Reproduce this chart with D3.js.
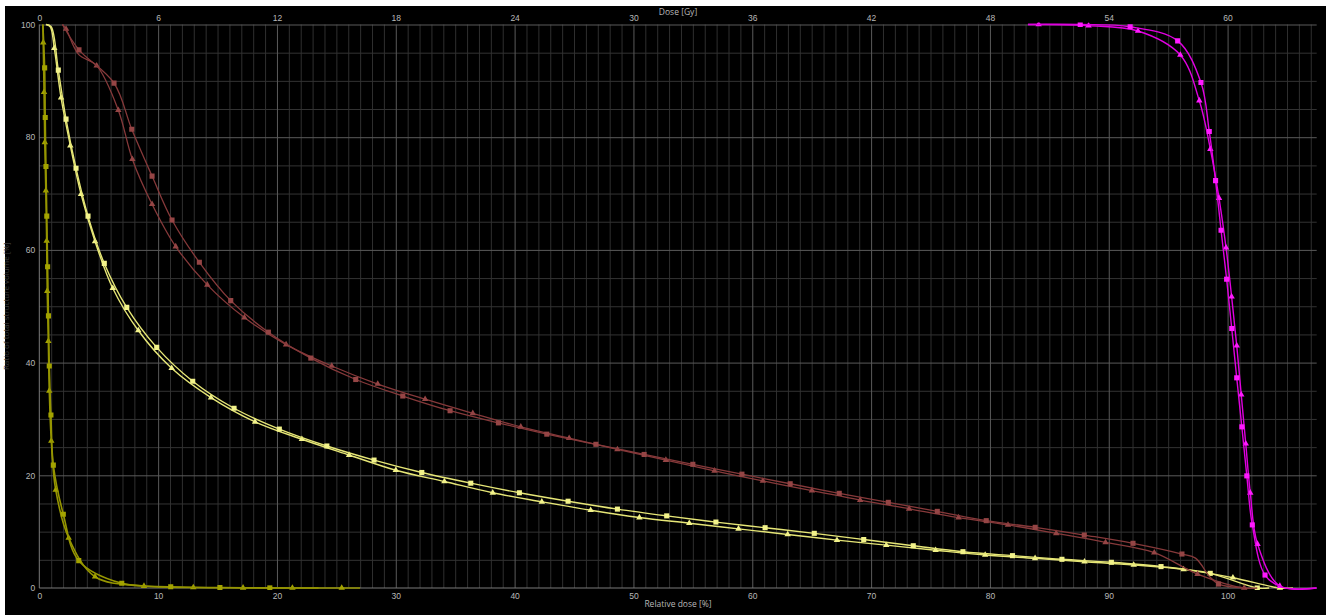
<!DOCTYPE html>
<html>
<head>
<meta charset="utf-8">
<script src="https://cdn.jsdelivr.net/npm/d3@7"></script>
<style>
  html, body { margin: 0; padding: 0; background: #ffffff; }
  svg { display: block; font-family: "Open Sans", "Noto Sans", sans-serif; }
</style>
</head>
<body>
<svg id="chart" width="1334" height="615"></svg>
<script>
// ---- axis settings ----
const PRESCRIPTION_GY = 60;          // 100 % relative dose
const REL_DOSE_MAX = 107.5;          // right end of the dose axis [%]
const relDoseTicks = d3.range(0, 101, 10);
const gyTicks = d3.range(0, 61, 6);
const volumeTicks = d3.range(0, 101, 20);

// ---- cumulative DVH curves: [relative dose %, volume %, marker] ----
const oliveSq = [
  [0.3, 100, 0], [0.45, 92.3, 1], [0.5, 83.5, 1], [0.56, 74.8, 1], [0.63, 66.0, 1],
  [0.7, 57.0, 1], [0.77, 48.3, 1], [0.84, 39.4, 1], [0.98, 30.7, 1], [1.18, 21.8, 1],
  [2.02, 13.1, 1], [3.32, 4.85, 1], [6.94, 0.83, 1], [11.06, 0.23, 1], [15.2, 0.08, 1],
  [19.4, 0.02, 1], [23.5, 0, 0]
];
const oliveTri = [
  [0.3, 100, 0], [0.33, 96.8, 1], [0.4, 88.0, 1], [0.46, 79.1, 1], [0.55, 70.5, 1],
  [0.62, 61.6, 1], [0.67, 52.7, 1], [0.76, 43.8, 1], [0.84, 35.0, 1], [1.01, 26.1, 1],
  [1.38, 17.4, 1], [2.47, 8.9, 1], [4.69, 2.0, 1], [8.81, 0.35, 1], [12.96, 0.1, 1],
  [17.15, 0.03, 1], [21.3, 0, 1], [25.45, 0, 1], [27, 0, 0]
];
const yellowSq = [
  [0.6, 100, 0], [1.0, 99.6, 0], [1.6, 91.9, 1], [2.25, 83.2, 1], [3.09, 74.5, 1],
  [4.1, 66.0, 1], [5.47, 57.6, 1], [7.36, 49.8, 1], [9.88, 42.7, 1], [12.91, 36.7, 1],
  [16.39, 31.9, 1], [20.2, 28.2, 1], [24.2, 25.2, 1], [28.17, 22.7, 1], [32.19, 20.5, 1],
  [36.31, 18.6, 1], [40.4, 16.9, 1], [44.5, 15.4, 1], [48.65, 14.0, 1], [52.8, 12.8, 1],
  [56.94, 11.7, 1], [61.08, 10.7, 1], [65.22, 9.7, 1], [69.38, 8.6, 1], [73.55, 7.5, 1],
  [77.73, 6.44, 1], [81.9, 5.74, 1], [86.06, 5.09, 1], [90.22, 4.56, 1], [94.4, 3.8, 1],
  [98.54, 2.6, 1], [102.5, 0, 1], [103.5, 0, 0]
];
const yellowTri = [
  [0.55, 100, 0], [0.92, 99.6, 0], [1.26, 95.8, 1], [1.83, 87.0, 1], [2.61, 78.5, 1],
  [3.51, 69.9, 1], [4.69, 61.5, 1], [6.18, 53.2, 1], [8.33, 45.7, 1], [11.14, 39.0, 1],
  [14.45, 33.8, 1], [18.16, 29.5, 1], [22.1, 26.4, 1], [26.07, 23.6, 1], [30.0, 20.9, 1],
  [34.09, 18.9, 1], [38.16, 16.9, 1], [42.29, 15.3, 1], [46.4, 13.8, 1], [50.5, 12.5, 1],
  [54.7, 11.5, 1], [58.84, 10.5, 1], [62.98, 9.5, 1], [67.13, 8.5, 1], [71.28, 7.6, 1],
  [75.43, 6.7, 1], [79.6, 5.86, 1], [83.8, 5.27, 1], [87.96, 4.67, 1], [92.1, 4.08, 1],
  [96.3, 3.3, 1], [100.45, 1.83, 1], [104.4, 0, 1], [105.5, 0, 0]
];
const brownSq = [
  [1.95, 100, 0], [3.34, 95.5, 1], [6.29, 89.6, 1], [7.78, 81.4, 1], [9.49, 73.1, 1],
  [11.17, 65.3, 1], [13.47, 57.8, 1], [16.11, 51.0, 1], [19.28, 45.4, 1], [22.85, 40.8, 1],
  [26.63, 37.0, 1], [30.59, 34.07, 1], [34.57, 31.46, 1], [38.64, 29.3, 1], [42.71, 27.3, 1],
  [46.84, 25.5, 1], [50.9, 23.7, 1], [55.0, 21.95, 1], [59.13, 20.2, 1], [63.19, 18.5, 1],
  [67.32, 16.8, 1], [71.45, 15.2, 1], [75.57, 13.6, 1], [79.69, 11.95, 1], [83.81, 10.77, 1],
  [87.94, 9.4, 1], [92.04, 7.93, 1], [96.16, 6.03, 1], [97.3, 5.3, 0], [98.5, 2.0, 0],
  [99.24, 0.7, 1], [101.5, 0, 0]
];
const brownTri = [
  [1.95, 100, 0], [2.25, 99.2, 1], [3.3, 94.7, 0], [4.83, 92.7, 1], [6.65, 84.8, 1],
  [7.83, 76.1, 1], [9.49, 68.1, 1], [11.48, 60.6, 1], [14.14, 53.8, 1], [17.26, 48.0, 1],
  [20.77, 43.2, 1], [24.61, 39.4, 1], [28.48, 36.2, 1], [32.47, 33.5, 1], [36.48, 31.0, 1],
  [40.52, 28.6, 1], [44.59, 26.6, 1], [48.65, 24.6, 1], [52.73, 22.7, 1], [56.82, 20.8, 1],
  [60.89, 19.0, 1], [65.02, 17.3, 1], [69.08, 15.6, 1], [73.2, 14.05, 1], [77.36, 12.5, 1],
  [81.52, 11.2, 1], [85.58, 9.7, 1], [89.73, 8.1, 1], [93.83, 6.27, 1], [97.47, 2.48, 1],
  [101.4, 0, 1], [102.5, 0, 0]
];
const magentaSq = [
  [83.2, 100, 0], [87.6, 100, 1], [91.8, 99.6, 1], [95.8, 97.1, 1], [97.76, 89.7, 1],
  [98.46, 81.0, 1], [98.99, 72.3, 1], [99.45, 63.5, 1], [99.92, 54.8, 1], [100.35, 46.05, 1],
  [100.77, 37.3, 1], [101.2, 28.6, 1], [101.62, 19.9, 1], [102.08, 11.2, 1], [103.15, 2.3, 1],
  [104.6, 0.15, 0], [107.5, 0, 0]
];
const magentaTri = [
  [83.2, 100, 0], [84.1, 100, 1], [88.3, 99.8, 1], [92.46, 98.85, 1], [96.02, 94.6, 1],
  [97.62, 86.5, 1], [98.55, 77.9, 1], [99.28, 69.2, 1], [99.87, 60.4, 1], [100.34, 51.7, 1],
  [100.77, 43.0, 1], [101.15, 34.3, 1], [101.53, 25.6, 1], [101.91, 16.9, 1], [102.52, 7.8, 1],
  [104.4, 0.35, 1], [107.5, 0, 0]
];

// ---- layout ----
const svg = d3.select("#chart");
const plot = { left: 39.3, right: 1316.7, top: 24.5, bottom: 588 };

svg.append("rect")
  .attr("x", 5).attr("y", 6).attr("width", 1321).attr("height", 609)
  .attr("fill", "#000000");

const x = d3.scaleLinear().domain([0, REL_DOSE_MAX]).range([plot.left, plot.right]);
const xGy = d3.scaleLinear().domain([0, REL_DOSE_MAX * PRESCRIPTION_GY / 100]).range([plot.left, plot.right]);
const y = d3.scaleLinear().domain([0, 100]).range([plot.bottom, plot.top]);
const plotH = plot.bottom - plot.top;
const plotW = plot.right - plot.left;

// ---- grid ----
function gridV(values, color) {
  svg.append("g")
    .attr("transform", `translate(0,${plot.bottom})`)
    .call(d3.axisBottom(x).tickValues(values).tickSize(-plotH).tickFormat(""))
    .call(g => g.select(".domain").remove())
    .call(g => g.selectAll("line").attr("stroke", color).attr("stroke-width", 1));
}
function gridH(values, color) {
  svg.append("g")
    .attr("transform", `translate(${plot.left},0)`)
    .call(d3.axisLeft(y).tickValues(values).tickSize(-plotW).tickFormat(""))
    .call(g => g.select(".domain").remove())
    .call(g => g.selectAll("line").attr("stroke", color).attr("stroke-width", 1));
}
gridV(d3.range(1, REL_DOSE_MAX, 1).filter(v => v % 10 !== 0), "#2f2f2f");
gridH(d3.range(5, 100, 5).filter(v => v % 20 !== 0), "#333333");
gridV(relDoseTicks.filter(v => v > 0), "#5a5a5a");
gridH(volumeTicks.filter(v => v > 0), "#5a5a5a");

// axis base lines
svg.append("line")
  .attr("x1", plot.left).attr("x2", plot.right)
  .attr("y1", y(0)).attr("y2", y(0))
  .attr("stroke", "#7a7a7a");
svg.append("line")
  .attr("x1", x(0)).attr("x2", x(0))
  .attr("y1", plot.top).attr("y2", plot.bottom)
  .attr("stroke", "#7a7a7a");

// ---- tick labels ----
const labelColor = "#b8b8b8";
function styleAxis(g) {
  g.select(".domain").remove();
  g.selectAll("text").attr("fill", labelColor).attr("font-size", 8.5);
}
svg.append("g")
  .attr("transform", `translate(0,${plot.bottom})`)
  .call(d3.axisBottom(x).tickValues(relDoseTicks).tickSize(0).tickPadding(5))
  .call(styleAxis);
svg.append("g")
  .attr("transform", `translate(0,${plot.top})`)
  .call(d3.axisTop(xGy).tickValues(gyTicks).tickSize(0).tickPadding(4))
  .call(styleAxis);
svg.append("g")
  .attr("transform", `translate(${plot.left},0)`)
  .call(d3.axisLeft(y).tickValues(volumeTicks).tickSize(0).tickPadding(4))
  .call(styleAxis);

// ---- axis titles ----
const midX = (plot.left + plot.right) / 2;
svg.append("text")
  .attr("x", midX).attr("y", 14.5)
  .attr("text-anchor", "middle").attr("font-size", 8.5).attr("fill", labelColor)
  .text("Dose [Gy]");
svg.append("text")
  .attr("x", midX).attr("y", 606.5)
  .attr("text-anchor", "middle").attr("font-size", 8.5).attr("fill", labelColor)
  .text("Relative dose [%]");
svg.append("text")
  .attr("transform", `translate(9,${(plot.top + plot.bottom) / 2}) rotate(-90)`)
  .attr("text-anchor", "middle").attr("font-size", 8).attr("fill", "#3c3c3c")
  .text("Ratio of total structure volume [%]");

// ---- curves ----
svg.append("clipPath").attr("id", "plot-clip")
  .append("rect")
  .attr("x", plot.left - 2).attr("y", plot.top - 2)
  .attr("width", plotW + 2).attr("height", plotH + 4);

const curves = [
  { data: oliveTri,   line: "#959500", fill: "#a3a300", symbol: d3.symbolTriangle, size: 18, width: 1.6 },
  { data: oliveSq,    line: "#959500", fill: "#a3a300", symbol: d3.symbolSquare,   size: 26, width: 1.6 },
  { data: yellowTri,  line: "#e6e676", fill: "#f2f28a", symbol: d3.symbolTriangle, size: 18, width: 1.4 },
  { data: yellowSq,   line: "#e6e676", fill: "#f2f28a", symbol: d3.symbolSquare,   size: 26, width: 1.4 },
  { data: brownTri,   line: "#86393a", fill: "#954545", symbol: d3.symbolTriangle, size: 18, width: 1.3 },
  { data: brownSq,    line: "#86393a", fill: "#954545", symbol: d3.symbolSquare,   size: 26, width: 1.3 },
  { data: magentaTri, line: "#e000e0", fill: "#ff1aff", symbol: d3.symbolTriangle, size: 18, width: 1.4 },
  { data: magentaSq,  line: "#e000e0", fill: "#ff1aff", symbol: d3.symbolSquare,   size: 26, width: 1.4 }
];

const lineGen = d3.line()
  .x(d => x(d[0]))
  .y(d => y(d[1]))
  .curve(d3.curveCatmullRom.alpha(0.5));

const layer = svg.append("g").attr("clip-path", "url(#plot-clip)");
curves.forEach(c => {
  const g = layer.append("g");
  g.append("path")
    .datum(c.data)
    .attr("d", lineGen)
    .attr("fill", "none")
    .attr("stroke", c.line)
    .attr("stroke-width", c.width)
    .attr("stroke-linejoin", "round");
  g.selectAll("path.marker")
    .data(c.data.filter(d => d[2] === 1))
    .join("path")
    .attr("class", "marker")
    .attr("transform", d => `translate(${x(d[0])},${y(d[1])})`)
    .attr("d", d3.symbol(c.symbol, c.size))
    .attr("fill", c.fill);
});
</script>
</body>
</html>
